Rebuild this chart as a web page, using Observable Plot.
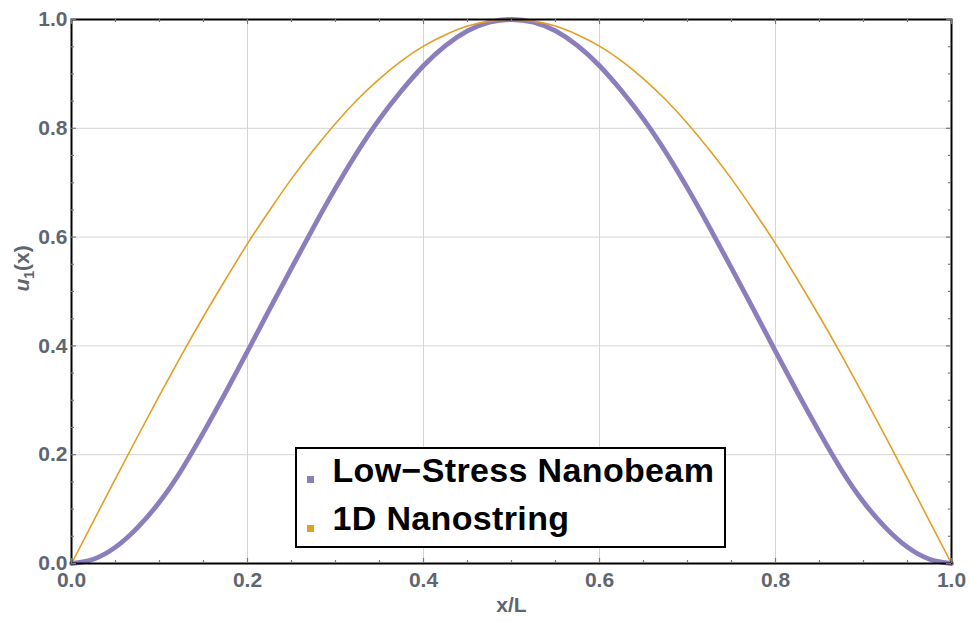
<!DOCTYPE html>
<html>
<head>
<meta charset="utf-8">
<script src="https://cdn.jsdelivr.net/npm/d3@7"></script>
<script src="https://cdn.jsdelivr.net/npm/@observablehq/plot@0.6"></script>
<style>
  body { margin: 0; background: #fff; }
  #wrap { position: relative; width: 969px; height: 622px; }
  #legend {
    position: absolute; left: 295px; top: 447px; width: 427px; height: 97px;
    border: 2.5px solid #000; background: #fff;
    font-family: "Liberation Sans", Arial, sans-serif; font-weight: bold; font-size: 34px; color: #000;
    letter-spacing: 0.35px;
  }
  #legend .row { position: absolute; left: 35.5px; line-height: 40px; white-space: nowrap; }
  #legend .sw { position: absolute; left: 10px; width: 7px; height: 7px; }
</style>
</head>
<body>
<div id="wrap"></div>
<script>
// ---- data ----
const xs = [0, 0.025, 0.05, 0.075, 0.1, 0.125, 0.15, 0.175, 0.2, 0.225, 0.25, 0.275, 0.3, 0.325, 0.35, 0.375, 0.4, 0.425, 0.45, 0.475,
            0.5, 0.525, 0.55, 0.575, 0.6, 0.625, 0.65, 0.675, 0.7, 0.725, 0.75, 0.775, 0.8, 0.825, 0.85, 0.875, 0.9, 0.925, 0.95, 0.975, 1];
const beam = [0, 0.008, 0.030, 0.066, 0.113, 0.172, 0.241, 0.314, 0.390, 0.467, 0.543, 0.618, 0.690, 0.757, 0.817, 0.869, 0.915, 0.952, 0.979, 0.995,
              1.000, 0.995, 0.979, 0.952, 0.915, 0.869, 0.817, 0.757, 0.690, 0.618, 0.543, 0.467, 0.390, 0.314, 0.241, 0.172, 0.113, 0.066, 0.030, 0.008, 0];
const string = [0, 0.078, 0.156, 0.233, 0.309, 0.383, 0.454, 0.522, 0.588, 0.649, 0.707, 0.760, 0.809, 0.853, 0.891, 0.924, 0.951, 0.972, 0.988, 0.997,
                1.000, 0.997, 0.988, 0.972, 0.951, 0.924, 0.891, 0.853, 0.809, 0.760, 0.707, 0.649, 0.588, 0.522, 0.454, 0.383, 0.309, 0.233, 0.156, 0.078, 0];
const seriesNames = ["Low\u2212Stress Nanobeam", "1D Nanostring"];
const seriesColors = ["#8c7dbd", "#e39e25"];
const xTicks = [0, 0.2, 0.4, 0.6, 0.8, 1.0];
const yTicks = [0, 0.2, 0.4, 0.6, 0.8, 1.0];
const xMinor = [0.05, 0.1, 0.15, 0.25, 0.3, 0.35, 0.45, 0.5, 0.55, 0.65, 0.7, 0.75, 0.85, 0.9, 0.95];
const yMinor = [0.05, 0.1, 0.15, 0.25, 0.3, 0.35, 0.45, 0.5, 0.55, 0.65, 0.7, 0.75, 0.85, 0.9, 0.95];
const xLabel = "x/L";
const yLabel = "u1(x)";

const data = xs.map((x, i) => ({x, beam: beam[i], string: string[i]}));

const W = 969, H = 622, mL = 71, mR = 18, mT = 19, mB = 59;
const plotW = W - mL - mR, plotH = H - mT - mB;
const gray = "#5f6670";
const tickColor = "#777";
const font = '"Liberation Sans", Arial, sans-serif';

const chart = Plot.plot({
  width: W, height: H,
  marginLeft: mL, marginRight: mR, marginTop: mT, marginBottom: mB,
  x: {domain: [0, 1]},
  y: {domain: [0, 1]},
  style: {fontFamily: font, background: "#fff", overflow: "visible"},
  marks: [
    Plot.gridX(xTicks.slice(1, -1), {stroke: "#d4d4d4", strokeOpacity: 1, strokeWidth: 1}),
    Plot.gridY(yTicks.slice(1, -1), {stroke: "#d4d4d4", strokeOpacity: 1, strokeWidth: 1}),
    Plot.line(data, {x: "x", y: "beam", stroke: seriesColors[0], strokeWidth: 4.8, curve: "natural"}),
    Plot.line(data, {x: "x", y: "string", stroke: seriesColors[1], strokeWidth: 1.6, curve: "natural"}),
    Plot.frame({stroke: "#000", strokeWidth: 2}),
    // minor ticks (inward)
    Plot.tickX(xMinor, {x: d => d, insetTop: plotH - 3, stroke: tickColor, strokeWidth: 1.2}),
    Plot.tickX(xMinor, {x: d => d, insetBottom: plotH - 3, stroke: tickColor, strokeWidth: 1.2}),
    Plot.tickY(yMinor, {y: d => d, insetRight: plotW - 3, stroke: tickColor, strokeWidth: 1.2}),
    Plot.tickY(yMinor, {y: d => d, insetLeft: plotW - 3, stroke: tickColor, strokeWidth: 1.2}),
    // major ticks (inward)
    Plot.tickX(xTicks, {x: d => d, insetTop: plotH - 5, stroke: tickColor, strokeWidth: 1.2}),
    Plot.tickX(xTicks, {x: d => d, insetBottom: plotH - 5, stroke: tickColor, strokeWidth: 1.2}),
    Plot.tickY(yTicks, {y: d => d, insetRight: plotW - 5, stroke: tickColor, strokeWidth: 1.2}),
    Plot.tickY(yTicks, {y: d => d, insetLeft: plotW - 5, stroke: tickColor, strokeWidth: 1.2}),
    Plot.axisX(xTicks, {tickSize: 0, tickPadding: 9, tickFormat: d3.format(".1f"), fontSize: 21, fontWeight: "bold", fill: gray, label: null}),
    Plot.axisY(yTicks, {tickSize: 0, tickPadding: 4, tickFormat: d3.format(".1f"), fontSize: 21, fontWeight: "bold", fill: gray, label: null}),
    Plot.text([xLabel], {text: d => d, frameAnchor: "bottom", dy: 42, fontSize: 21, fontWeight: "bold", fill: gray, lineAnchor: "middle"}),
    Plot.text([yLabel], {text: d => d, frameAnchor: "left", dx: -49, rotate: -90, fontSize: 21, fontWeight: "bold", fill: gray, lineAnchor: "middle"})
  ]
});

document.getElementById("wrap").appendChild(chart);

// format y label: italic u with subscript 1
d3.select(chart).selectAll("text").each(function() {
  if (this.textContent === yLabel) {
    const t = d3.select(this);
    t.text(null);
    t.append("tspan").attr("font-style", "italic").text("u");
    t.append("tspan").attr("font-size", 14).attr("dy", 5).text("1");
    t.append("tspan").attr("dy", -5).text("(x)");
  }
});

// legend
const legend = document.createElement("div");
legend.id = "legend";
const rowTops = [0.7, 48.7];
const swTops = [26.5, 76];
seriesNames.forEach((name, i) => {
  const sw = document.createElement("div");
  sw.className = "sw";
  sw.style.top = swTops[i] + "px";
  sw.style.background = seriesColors[i];
  legend.appendChild(sw);
  const row = document.createElement("div");
  row.className = "row";
  row.style.top = rowTops[i] + "px";
  row.textContent = name;
  legend.appendChild(row);
});
document.getElementById("wrap").appendChild(legend);
</script>
</body>
</html>
